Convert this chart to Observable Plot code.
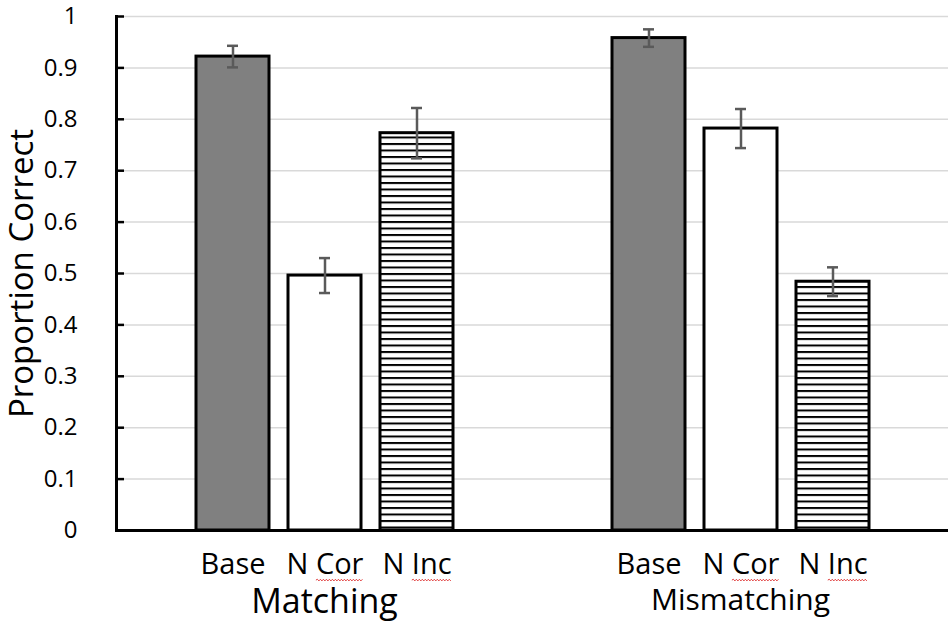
<!DOCTYPE html>
<html><head><meta charset="utf-8">
<script src="https://cdn.jsdelivr.net/npm/d3@7"></script>
<script src="https://cdn.jsdelivr.net/npm/@observablehq/plot@0.6"></script>
<style>body{margin:0;background:#fff;}</style>
</head><body>
<script>
const groups = ["Matching", "Mismatching"];
const conditions = ["Base", "N Cor", "N Inc"];
const matchingMeans = [0.922, 0.496, 0.773];
const matchingErrors = [0.021, 0.034, 0.049];
const mismatchingMeans = [0.958, 0.782, 0.484];
const mismatchingErrors = [0.017, 0.038, 0.028];
const yTicks = [0, 0.1, 0.2, 0.3, 0.4, 0.5, 0.6, 0.7, 0.8, 0.9, 1];
const yTickLabels = ["0", "0.1", "0.2", "0.3", "0.4", "0.5", "0.6", "0.7", "0.8", "0.9", "1"];
const conditionFills = ["#808080", "#ffffff", "url(#hatch)"];
const spellFlagged = ["N Cor", "N Inc"];

const data = [];
groups.forEach((g, gi) => {
  const means = gi === 0 ? matchingMeans : mismatchingMeans;
  const errs = gi === 0 ? matchingErrors : mismatchingErrors;
  conditions.forEach((c, ci) => {
    data.push({group: g, cond: c, mean: means[ci], lo: means[ci] - errs[ci], hi: means[ci] + errs[ci], fill: conditionFills[ci]});
  });
});

const font = "'Open Sans', sans-serif";
const svg = Plot.plot({
  width: 950, height: 626,
  marginLeft: 116, marginRight: 2, marginTop: 16, marginBottom: 96,
  style: {fontFamily: font, color: "#000", background: "#fff"},
  fx: {domain: groups, padding: 0, label: null},
  x: {domain: conditions, paddingInner: 0.211, paddingOuter: 0.854, label: null},
  y: {domain: [0, 1], label: null},
  color: {type: "identity"},
  marks: [
    Plot.gridY(yTicks, {stroke: "#d9d9d9", strokeOpacity: 1, strokeWidth: 1.5}),
    Plot.barY(data, {fx: "group", x: "cond", y: "mean", fill: "fill", stroke: "#000", strokeWidth: 3}),
    Plot.ruleX(data, {fx: "group", x: "cond", y1: "lo", y2: "hi", stroke: "#5a5a5a", strokeWidth: 2.5}),
    Plot.tickY(data, {fx: "group", x: "cond", y: "hi", stroke: "#5a5a5a", strokeWidth: 2.5, insetLeft: 31, insetRight: 31}),
    Plot.tickY(data, {fx: "group", x: "cond", y: "lo", stroke: "#5a5a5a", strokeWidth: 2.5, insetLeft: 31, insetRight: 31}),
    Plot.ruleY([0], {stroke: "#000", strokeWidth: 3}),
    Plot.frame({anchor: "left", facetAnchor: "left", stroke: "#000", strokeWidth: 3}),
    Plot.axisY(yTicks, {anchor: "left", tickSize: -8, tickPadding: 47, strokeWidth: 2.5, stroke: "#000",
      tickFormat: (d, i) => yTickLabels[i], fontSize: 24, label: null}),
    Plot.axisY([], {anchor: "left", label: "Proportion Correct", labelAnchor: "center", labelArrow: "none", labelOffset: 107, fontSize: 33, tickSize: 0}),
    Plot.axisX({anchor: "bottom", tickSize: 0, tickPadding: 23, fontSize: 29, label: null}),
    Plot.axisFx({anchor: "bottom", tickSize: 0, tickPadding: 58, fontSize: d => d === "Matching" ? 34 : 30, label: null})
  ]
});

const defs = d3.select(svg).insert("defs", ":first-child");
const pat = defs.append("pattern").attr("id", "hatch").attr("patternUnits", "userSpaceOnUse")
  .attr("width", 10).attr("height", 6.5);
pat.append("rect").attr("width", 10).attr("height", 6.5).attr("fill", "#fff");
pat.append("rect").attr("y", 0).attr("width", 10).attr("height", 2).attr("fill", "#000");

document.body.appendChild(svg);

// spell-check style red squiggle under the second word of flagged labels
svg.querySelectorAll("text").forEach(t => {
  const s = t.textContent;
  if (!spellFlagged.includes(s)) return;
  const n = s.length;
  const start = t.getStartPositionOfChar(2);
  const end = t.getEndPositionOfChar(n - 1);
  const bb = t.getBBox();
  const yy = start.y + 6;
  let d = `M${start.x},${yy}`;
  let up = true;
  for (let xx = start.x + 1.5; xx <= end.x + 0.01; xx += 1.5) {
    d += `L${xx},${yy + (up ? -0.8 : 0.8)}`;
    up = !up;
  }
  const p = document.createElementNS("http://www.w3.org/2000/svg", "path");
  p.setAttribute("d", d);
  p.setAttribute("fill", "none");
  p.setAttribute("stroke", "#e03a3a");
  p.setAttribute("stroke-width", "1");
  const tr = t.getAttribute("transform");
  if (tr) p.setAttribute("transform", tr);
  t.parentNode.appendChild(p);
});
</script>
</body></html>
